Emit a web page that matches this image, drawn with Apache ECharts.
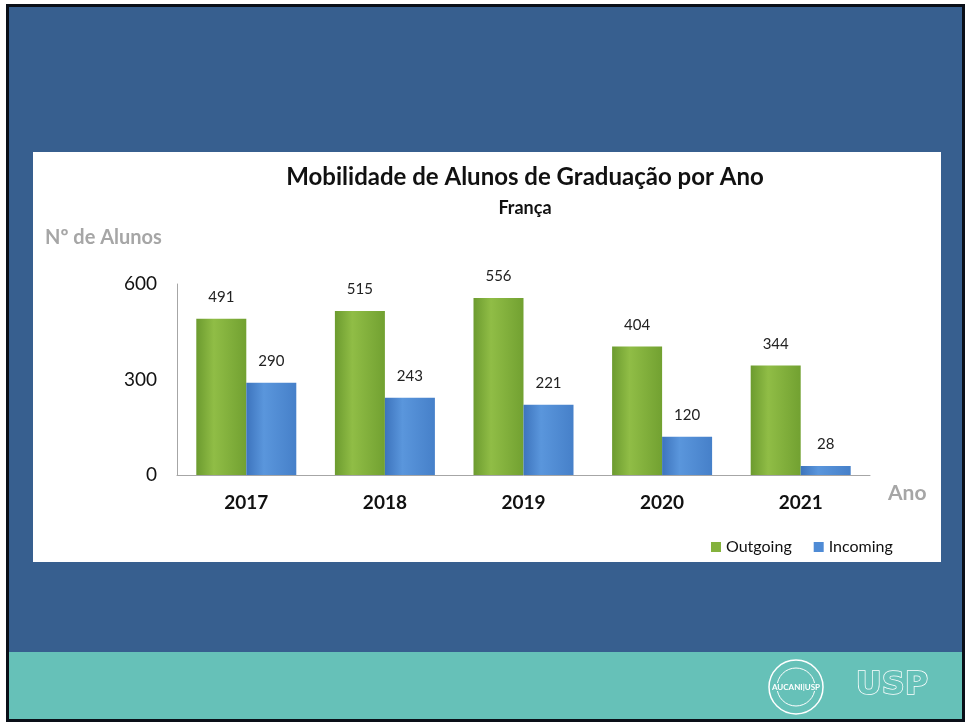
<!DOCTYPE html>
<html>
<head>
<meta charset="utf-8">
<script src="https://cdn.jsdelivr.net/npm/echarts@6/dist/echarts.min.js"></script>
<style>
  html, body { margin: 0; padding: 0; background: #fff; }
  #chart { width: 967px; height: 723px; }
</style>
</head>
<body>
<div id="chart"></div>
<script>
// dados do gráfico
const anos = ['2017', '2018', '2019', '2020', '2021']
const outgoing = [491, 515, 556, 404, 344]
const incoming = [290, 243, 221, 120, 28]
const yTicks = [0, 300, 600]

const font = 'Lato, "Open Sans", sans-serif'

// gradiente horizontal para dar o efeito de bevel
function grad(c1, c2, c3) {
  return new echarts.graphic.LinearGradient(0, 0, 1, 0, [
    { offset: 0, color: c1 },
    { offset: 0.35, color: c2 },
    { offset: 1, color: c3 }
  ])
}
const green = grad('#6c9b2f', '#90bd46', '#72a131')
const blue = grad('#3d74bd', '#5a96dc', '#4680c9')

const chart = echarts.init(document.getElementById('chart'))

const option = {
  backgroundColor: '#ffffff',
  animation: false,
  textStyle: { fontFamily: font },
  graphic: [
    // moldura e fundo azul do slide
    { type: 'rect', z: -10, shape: { x: 7.5, y: 5.5, width: 956, height: 715 },
      style: { fill: '#375f8f', stroke: '#0a0f18', lineWidth: 3 } },
    // faixa verde-água
    { type: 'rect', z: -9, shape: { x: 9, y: 652, width: 953, height: 67 },
      style: { fill: '#66c1b8' } },
    // painel branco
    { type: 'rect', z: -8, shape: { x: 33, y: 152, width: 908, height: 410 },
      style: { fill: '#ffffff' } },
    // títulos dos eixos
    { type: 'text', left: 45, top: 228,
      style: { text: 'Nº de Alunos', font: 'bold 20px ' + font, fill: '#a6a6a6' } },
    { type: 'text', left: 888, top: 483,
      style: { text: 'Ano', font: 'bold 21px ' + font, fill: '#a6a6a6' } },
    // logos (aproximação)
    { type: 'circle', shape: { cx: 796, cy: 687, r: 27 },
      style: { fill: 'none', stroke: '#ffffff', lineWidth: 1.5 } },
    { type: 'circle', shape: { cx: 796, cy: 687, r: 19 },
      style: { fill: 'none', stroke: '#ffffff', lineWidth: 1 } },
    { type: 'text', x: 796, y: 687,
      style: { text: 'AUCANI|USP', font: 'bold 8px ' + font, fill: '#ffffff',
        align: 'center', verticalAlign: 'middle', backgroundColor: '#66c1b8' } },
    { type: 'text', x: 892, y: 686,
      style: { text: 'USP', font: 'bold 32px "DejaVu Sans", sans-serif', fill: '#66c1b8',
        stroke: '#ffffff', lineWidth: 1.5, align: 'center', verticalAlign: 'middle' } }
  ],
  title: [
    {
      text: 'Mobilidade de Alunos de Graduação por Ano',
      left: 520, top: 160, textAlign: 'center',
      textStyle: { fontFamily: font, fontSize: 24, fontWeight: 'bold', color: '#111' }
    },
    {
      text: 'França',
      left: 520, top: 194, textAlign: 'center',
      textStyle: { fontFamily: font, fontSize: 18, fontWeight: 'bold', color: '#111' }
    }
  ],
  legend: {
    left: 706, top: 534,
    itemWidth: 10, itemHeight: 10, itemGap: 22,
    textStyle: { fontFamily: font, fontSize: 16, color: '#111' },
    data: [
      { name: 'Outgoing', icon: 'rect', itemStyle: { color: '#84b23d' } },
      { name: 'Incoming', icon: 'rect', itemStyle: { color: '#4f8bd5' } }
    ]
  },
  grid: { left: 177, right: 97, top: 284, bottom: 248, containLabel: false },
  xAxis: {
    type: 'category',
    data: anos,
    axisLine: { lineStyle: { color: '#a6a6a6', width: 1 } },
    axisTick: { show: false },
    axisLabel: { fontFamily: font, fontSize: 19, fontWeight: 'bold', color: '#111', margin: 18 }
  },
  yAxis: {
    type: 'value',
    min: 0, max: 600, interval: 300,
    axisLine: { show: true, lineStyle: { color: '#a6a6a6' } },
    axisTick: { show: false },
    splitLine: { show: false },
    axisLabel: {
      fontFamily: font, fontSize: 19, color: '#111', margin: 20,
      formatter: v => yTicks.includes(v) ? String(v) : ''
    }
  },
  series: [
    {
      name: 'Outgoing',
      type: 'bar',
      data: outgoing,
      barWidth: 50,
      barGap: '0%',
      itemStyle: { color: green },
      label: { show: true, position: 'top', distance: 14, fontFamily: font, fontSize: 15, color: '#222' }
    },
    {
      name: 'Incoming',
      type: 'bar',
      data: incoming,
      barWidth: 50,
      itemStyle: { color: blue },
      label: { show: true, position: 'top', distance: 14, fontFamily: font, fontSize: 15, color: '#222' }
    }
  ]
}

chart.setOption(option)
</script>
</body>
</html>
